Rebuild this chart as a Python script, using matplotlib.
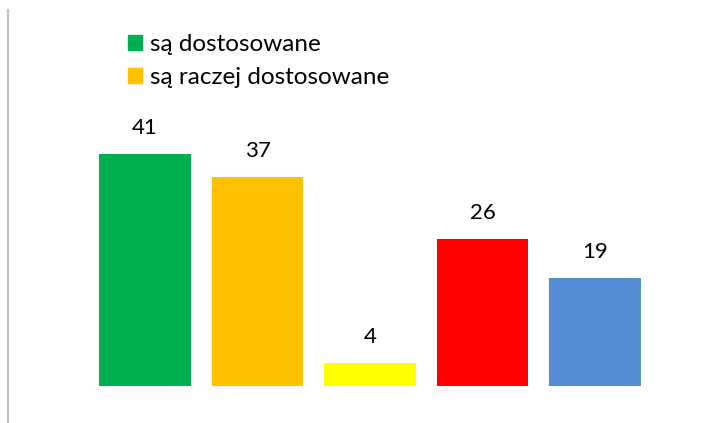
import matplotlib.pyplot as plt
from matplotlib.patches import Patch
from matplotlib.lines import Line2D

plt.rcParams['font.family'] = ['Lato', 'DejaVu Sans']

categories = ['są dostosowane', 'są raczej dostosowane', 'są raczej niedostosowane',
              'nie są dostosowane', 'trudno powiedzieć']
values = [41, 37, 4, 26, 19]
colors = ['#00B050', '#FFC000', '#FFFF00', '#FF0000', '#558ED5']

W, H = 721, 423
fig = plt.figure(figsize=(W/100, H/100), dpi=100)
# axes placed in pixel terms
left, right, bottom, top = 88.75, 651.25, 423-386, 423-30
ax = fig.add_axes([left/W, bottom/H, (right-left)/W, (top-bottom)/H])

x = range(len(values))
bars = ax.bar(x, values, width=0.81, color=colors)
for xi, v in zip(x, values):
    ax.annotate(str(v), (xi, v), xytext=(0, 14.4), textcoords='offset points',
                ha='center', va='baseline', fontsize=16)

ax.set_xlim(-0.5, 4.5)
ax.set_ylim(0, (top-bottom)/5.66)
ax.axis('off')

handles = [Patch(color=colors[0]), Patch(color=colors[1])]
fig.legend(handles, categories[:2], loc='upper left',
           bbox_to_anchor=(128/W, 1-34/H), frameon=False, fontsize=17.5,
           handlelength=0.57, handleheight=0.57, handletextpad=0.33,
           labelspacing=0.51, borderpad=0, borderaxespad=0)

fig.add_artist(Line2D([8/W, 8/W], [0, 1-10/H], transform=fig.transFigure,
                      color='#BFBFBF', lw=1.5))

fig.savefig('out.png', dpi=100)
